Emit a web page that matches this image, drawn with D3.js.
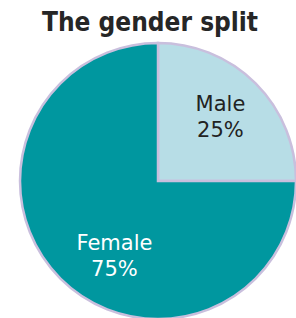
<!DOCTYPE html>
<html>
<head>
<meta charset="utf-8">
<script src="https://cdn.jsdelivr.net/npm/d3@7"></script>
<style>
  html, body { margin: 0; padding: 0; background: #fff; }
  svg { display: block; }
</style>
</head>
<body>
<div id="chart"></div>
<script>
const categories = ['Male', 'Female'];
const values = [25, 75];
const colors = ['#b7dde6', '#00979f'];
const labelColors = ['#222222', '#ffffff'];

const width = 296, height = 318;
const cx = 158, cy = 181, radius = 138;

const svg = d3.select('#chart').append('svg')
    .attr('width', width)
    .attr('height', height);

svg.append('text')
    .attr('x', 150)
    .attr('y', 31)
    .attr('text-anchor', 'middle')
    .style('font-family', 'DejaVu Sans Condensed, DejaVu Sans, sans-serif')
    .style('font-weight', 'bold')
    .style('font-size', '26px')
    .style('fill', '#262626')
    .text('The gender split');

const data = categories.map((c, i) => ({ name: c, value: values[i], color: colors[i], label: labelColors[i] }));

const pie = d3.pie().sort(null).value(d => d.value);
const arc = d3.arc().innerRadius(0).outerRadius(radius);

// label placement: like a "best fit" label, big slice pulled a bit off its middle angle
function labelPos(d) {
    let a = (d.startAngle + d.endAngle) / 2;
    if (d.data.value > 50) a -= 0.27;
    const r = radius * 0.64;
    return [Math.sin(a) * r, -Math.cos(a) * r];
}

const g = svg.append('g').attr('transform', `translate(${cx},${cy})`);

const slices = g.selectAll('g.slice')
    .data(pie(data))
    .join('g')
    .attr('class', 'slice');

slices.append('path')
    .attr('d', arc)
    .attr('fill', d => d.data.color)
    .attr('stroke', '#c9bfdd')
    .attr('stroke-width', 2.5);

const labels = slices.append('text')
    .attr('transform', d => `translate(${labelPos(d)})`)
    .attr('text-anchor', 'middle')
    .style('font-family', 'DejaVu Sans, sans-serif')
    .style('font-size', '21px')
    .style('fill', d => d.data.label);

labels.append('tspan')
    .attr('x', 0)
    .attr('y', -8)
    .text(d => d.data.name);

labels.append('tspan')
    .attr('x', 0)
    .attr('dy', 26)
    .text(d => d.data.value + '%');
</script>
</body>
</html>
